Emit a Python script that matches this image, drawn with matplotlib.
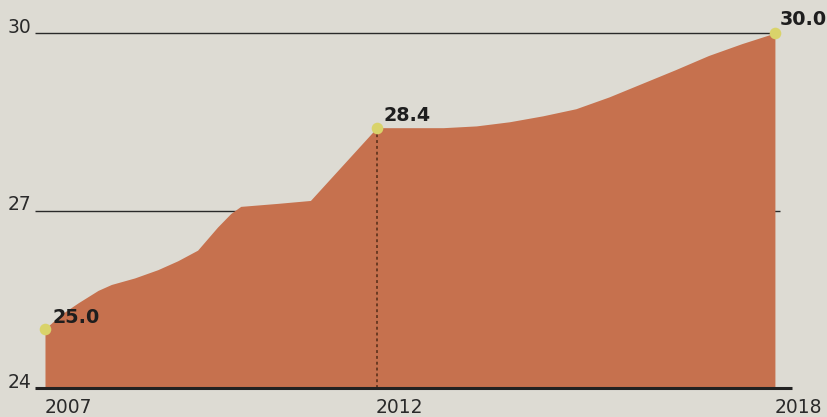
import matplotlib
matplotlib.use("Agg")
import matplotlib.pyplot as plt

plt.rcParams["font.family"] = ["DejaVu Sans"]

years = [2007.0, 2007.25, 2007.5, 2007.8, 2008.0, 2008.35, 2008.7, 2009.0, 2009.3,
         2009.6, 2009.8, 2009.95, 2010.5, 2011.0, 2012.0, 2012.5, 2013.0, 2013.5, 2014.0,
         2014.5, 2015.0, 2015.5, 2016.0, 2016.5, 2017.0, 2017.5, 2018.0]
values = [25.0, 25.25, 25.44, 25.65, 25.75, 25.86, 26.0, 26.15, 26.33,
          26.72, 26.95, 27.07, 27.12, 27.17, 28.4, 28.4, 28.4, 28.43, 28.5,
          28.6, 28.72, 28.92, 29.15, 29.38, 29.62, 29.82, 30.0]
highlight_years = [2007, 2012, 2018]
highlight_values = [25.0, 28.4, 30.0]
highlight_labels = ["25.0", "28.4", "30.0"]
ytick_values = [24, 27, 30]
xtick_years = [2007, 2012, 2018]

bg = "#dddbd3"
fill_col = "#c6714e"

fig = plt.figure(figsize=(8.28, 4.17), dpi=100, facecolor=bg)
ax = fig.add_axes([0, 0, 1, 1])
ax.set_facecolor(bg)
ax.set_xlim(2006.322, 2018.80)
ax.set_ylim(23.51, 30.558)
ax.axis("off")

# gridlines
ax.hlines([30, 27], 2006.85, 2018.08, color="#2a2a2a", lw=1.0, zorder=1)

ax.fill_between(years, 24, values, color=fill_col, lw=0, zorder=2)

# baseline
ax.hlines(24, 2006.85, 2018.25, color="#222222", lw=2.2, zorder=4)

# dotted vertical at 2012
ax.vlines(2012, 24, 28.4, color="#6b3a22", lw=1.4, linestyles=(0, (1.5, 1.5)), zorder=3)

ax.scatter(highlight_years, highlight_values, s=70, color="#d9d36a", zorder=5, lw=0)

offsets = [(0.12, 0.22), (0.1, 0.24), (0.075, 0.26)]
for xv, yv, lab, (dx, dy) in zip(highlight_years, highlight_values, highlight_labels, offsets):
    ax.text(xv + dx, yv + dy, lab, fontsize=13.8, fontweight="bold", color="#1e1e1e",
            ha="left", va="center_baseline", zorder=6)

for yv in ytick_values:
    ax.text(2006.43, yv + 0.13, str(yv), fontsize=13.5, color="#2a2a2a", ha="left",
            va="center_baseline")

for xv in xtick_years:
    ax.text(xv - 0.01, 23.70, str(xv), fontsize=13.5, color="#2a2a2a", ha="left",
            va="center_baseline")

fig.savefig("out.png", dpi=100, facecolor=bg)
